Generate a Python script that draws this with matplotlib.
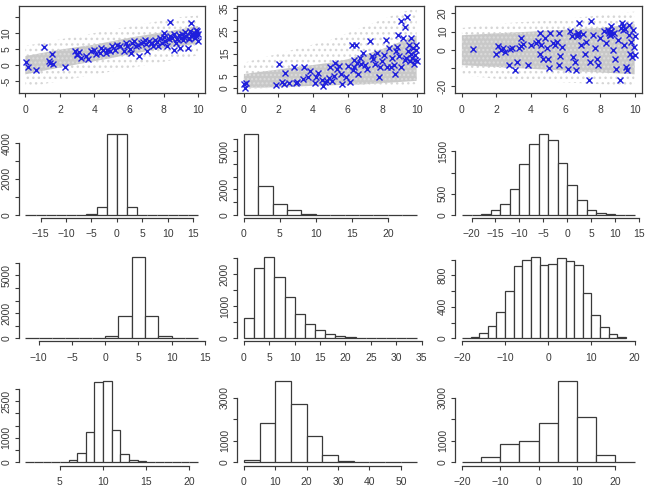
import matplotlib.pyplot as plt
import numpy as np

plt.rcParams['font.family'] = ['Liberation Sans', 'DejaVu Sans']

# ---- top row: scatter panels (grey cloud envelopes + blue marked points) ----
cloud_x = [0, 1, 2, 3, 4, 5, 6, 7, 8, 9, 10]

s1_dense_lo = [-2.9, -1.8, -0.8, 0.2, 1.2, 2.2, 3.3, 4.3, 5.2, 6.0, 6.7]
s1_dense_hi = [2.8, 3.8, 4.8, 5.6, 6.4, 7.4, 8.5, 9.4, 10.3, 11.2, 12.2]
s1_sparse_lo = [-7, -6, -5, -4, -3, -2, -1, 0, 1, 2, 3]
s1_sparse_hi = [6, 7, 8, 9, 10, 11, 12, 13, 14, 15, 15.5]
s1_x = [0.04, 0.13, 0.6, 1.06, 1.35, 1.44, 1.52, 1.6, 2.3, 2.87, 2.98, 3.1, 3.2, 3.5,
        3.6, 3.8, 4.0, 4.1, 4.3, 4.5, 4.65, 4.75, 5.0, 5.2, 5.3, 5.5, 5.7, 5.9, 6.1,
        6.2, 6.3, 6.5, 6.6, 6.7, 6.9, 7.05, 7.15, 7.35, 7.5, 7.7, 7.8, 8.0, 8.1, 8.2,
        8.4, 8.5, 8.6, 8.7, 8.9, 8.98, 9.1, 9.3, 9.4, 9.55, 9.6, 9.75, 9.85, 9.94,
        10.0, 9.85, 8.3, 8.8, 9.2, 9.5, 9.7, 9.9, 7.9, 8.6, 9.0, 9.6,
        6.4, 6.8, 7.0, 7.25, 7.6, 7.4, 8.05, 8.35, 8.75, 9.05, 9.25, 9.45, 9.65, 9.8,
        10.0, 5.8, 6.05, 4.9, 4.4, 3.0]
s1_y = [0.9, -0.6, -1.6, 5.6, 1.2, 0.7, 3.6, 0.2, -0.6, 4.3, 3.0, 4.0, 2.3, 2.8,
        1.8, 4.3, 4.8, 3.3, 3.8, 4.8, 3.8, 4.8, 5.9, 4.8, 6.4, 5.9, 4.3, 5.9, 3.8,
        6.9, 7.4, 6.4, 2.8, 6.9, 7.9, 4.3, 7.4, 6.9, 7.9, 5.9, 8.5, 10.0, 7.4, 5.9,
        13.6, 8.5, 4.8, 6.9, 9.5, 5.4, 7.9, 9.0, 5.2, 10.5, 13.1, 10.0, 9.0, 10.5,
        7.4, 11.0, 8.0, 8.2, 8.8, 8.0, 9.3, 9.6, 7.0, 9.8, 8.6, 9.0,
        6.0, 7.2, 6.5, 7.0, 7.3, 6.0, 8.8, 9.2, 8.0, 9.8, 10.3, 8.6, 9.5, 8.3,
        9.8, 6.8, 5.0, 4.4, 5.3, 3.6]

s2_dense_lo = [0, 0, 0.3, 0.5, 0.8, 1.0, 1.3, 1.5, 2.0, 2.5, 3.0]
s2_dense_hi = [6, 7, 8, 9, 10, 11, 12.5, 14.5, 17, 20, 23]
s2_sparse_lo = [-0.5, -0.3, 0, 0, 0, 0.2, 0.3, 0.5, 0.8, 1.0, 1.5]
s2_sparse_hi = [11, 13, 15, 17, 19, 21, 24, 27, 30, 33, 35]
s2_x = [0.0, 0.06, 0.13, 2.02, 1.87, 2.2, 2.3, 2.4, 2.6, 2.9, 3.0, 3.1, 3.4, 3.5,
        3.7, 3.8, 4.1, 4.2, 4.3, 4.5, 4.6, 4.7, 4.9, 5.0, 5.1, 5.2, 5.3, 5.4, 5.6,
        5.7, 5.9, 6.0, 6.15, 6.25, 6.35, 6.4, 6.5, 6.6, 6.7, 6.8, 6.9, 7.1, 7.3, 7.4,
        7.6, 7.7, 7.8, 8.0, 8.2, 8.3, 8.4, 8.6, 8.75, 8.85, 8.9, 9.1, 9.1, 9.2, 9.3,
        9.45, 9.5, 9.6, 9.7, 9.8, 9.85, 9.9, 9.95, 10.0, 8.7, 9.0, 9.4, 9.7, 9.9, 8.5,
        6.3, 6.55, 7.0, 7.5, 7.9, 8.1, 8.8, 9.3, 9.55, 9.75, 9.95, 5.5, 4.8]
s2_y = [1.4, 0.0, 2.0, 10.6, 1.0, 2.4, 1.4, 6.3, 2.0, 8.9, 2.0, 2.4, 3.9, 8.9,
        4.9, 7.4, 2.0, 4.6, 6.3, 3.4, 0.6, 2.4, 4.1, 8.9, 3.1, 5.3, 11.0, 8.1, 6.0,
        1.4, 4.6, 9.6, 2.4, 18.9, 12.4, 8.9, 18.9, 6.0, 13.1, 10.3, 15.3, 8.1, 20.6, 13.9,
        10.3, 15.3, 4.6, 11.7, 21.0, 8.9, 17.4, 13.1, 6.0, 18.1, 23.1, 8.9, 29.6, 21.7, 26.7,
        31.0, 16.0, 11.7, 21.7, 17.4, 10.3, 14.6, 18.9, 11.7, 10.0, 14.0, 13.0, 15.0, 12.0, 9.0,
        8.0, 11.0, 10.0, 12.5, 9.0, 14.5, 16.0, 12.0, 19.0, 13.0, 16.5, 9.5, 3.0]

s3_dense_lo = [-8.5, -9, -9.5, -10, -10.5, -11, -11.5, -12, -12.5, -13, -13.5]
s3_dense_hi = [8, 8.5, 9, 9.5, 10, 10.5, 11, 11.5, 12, 13, 14]
s3_sparse_lo = [-14, -15, -16, -16.5, -17, -17.5, -18, -18.5, -19, -19.5, -20]
s3_sparse_hi = [12, 13, 14, 15, 15.5, 16, 17, 18, 19, 20, 21]
s3_x = [0.67, 2.0, 2.1, 2.25, 2.37, 2.5, 2.7, 2.8, 2.9, 3.1, 3.2, 3.3, 3.4, 3.45,
        3.55, 3.8, 4.0, 4.3, 4.4, 4.5, 4.5, 4.6, 4.7, 4.8, 4.9, 5.0, 5.05, 5.1, 5.25,
        5.4, 5.5, 5.6, 5.65, 5.7, 5.8, 6.15, 6.25, 6.35, 6.45, 6.55, 6.6, 6.7, 6.8,
        6.9, 7.1, 7.2, 7.35, 7.4, 7.5, 7.6, 7.7, 7.8, 7.9, 8.0, 8.2, 8.35, 8.45, 8.55,
        8.65, 8.75, 8.85, 8.95, 9.05, 9.15, 9.25, 9.35, 9.4, 9.5, 9.55, 9.65, 9.7,
        9.75, 9.8, 9.85, 9.9, 9.95, 10.0, 10.0, 8.5, 8.6, 8.7, 8.8, 6.7,
        8.55, 8.65, 9.2, 9.3, 9.45, 6.75, 6.65, 7.0]
s3_y = [0.4, -2.1, 2.1, -0.2, 1.1, -1.1, -8.2, 0.4, 1.1, -11.4, -6.7, 0.7, 6.4, 2.1,
        3.0, -8.6, 2.6, 3.6, 4.9, 9.2, -2.1, 2.6, -4.9, 6.4, 0.7, -4.9, -10.1, 9.5, 3.6,
        2.6, 4.5, -8.2, 9.2, -3.4, 1.7, -10.5, 10.1, 7.3, -3.9, -6.7, -11.0, 8.2, 14.8,
        2.6, -2.1, 4.5, -16.6, -6.7, 15.7, 8.2, 0.7, -4.9, -8.6, 6.4, 10.1, 3.6, 11.0, 8.2,
        12.9, -0.2, -4.9, -10.5, 5.4, -16.6, 14.8, 11.0, 2.6, -9.5, -11.4, 8.2, 13.8,
        -2.1, 4.5, -3.9, 11.0, 1.7, -3.0, 7.3, 9.0, 10.0, 8.5, 9.5, 9.0,
        8.0, 10.5, 12.0, 13.0, 11.5, 9.5, 7.8, 8.7]

# ---- histogram panels: bin edges, counts and x range ----
h1_edges = np.arange(-18, 17, 2)
h1_counts = [0, 0, 0, 0, 0, 2, 25, 450, 4490, 4520, 450, 10, 0, 0, 0, 0, 0]
h2_edges = np.arange(0, 25, 2)
h2_counts = [6390, 2280, 820, 345, 80, 10, 0, 0, 0, 0, 0, 0]
h3_edges = np.arange(-22, 15, 2)
h3_counts = [0, 2, 15, 103, 253, 616, 1193, 1682, 1919, 1761, 1224, 695, 355, 103, 40, 8, 1, 0]
h4_edges = np.arange(-12, 15, 2)
h4_counts = [0, 0, 0, 0, 5, 50, 157, 1730, 6440, 1730, 157, 50, 5]
h5_edges = np.arange(0, 35, 2)
h5_counts = [628, 2191, 2520, 1914, 1296, 751, 432, 247, 144, 72, 30, 20, 5, 2, 0, 0, 0]
h6_edges = np.arange(-20, 19, 2)
h6_counts = [8, 10, 63, 151, 335, 599, 913, 997, 1030, 934, 942, 1018, 988, 934, 570, 302, 138, 54, 12]
h7_edges = np.arange(1, 22, 1)
h7_counts = [0, 0, 0, 0, 10, 95, 380, 1236, 3274, 3315, 1318, 340, 109, 40, 10, 0, 0, 0, 0, 0]
h8_edges = np.arange(0, 56, 5)
h8_counts = [90, 1846, 3770, 2708, 1200, 354, 60, 15, 0, 0, 0]
h9_edges = np.arange(-20, 26, 5)
h9_counts = [5, 246, 846, 1000, 1846, 3770, 2108, 323, 0]

h_xrange = [(-18, 16), (0, 24), (-22, 14), (-12, 14), (0, 34), (-20, 20),
            (1, 21), (0, 55), (-20, 25)]
h_xticks = [np.arange(-15, 16, 5), np.arange(0, 21, 5), np.arange(-20, 16, 5),
            np.arange(-10, 16, 5), np.arange(0, 36, 5), np.arange(-20, 21, 10),
            np.arange(5, 21, 5), np.arange(0, 51, 10), np.arange(-20, 21, 10)]
h_yticks = [np.arange(0, 4001, 1000), np.arange(0, 6001, 1000), np.arange(0, 1501, 500),
            np.arange(0, 6001, 1000), np.arange(0, 2501, 500), np.arange(0, 1001, 200),
            np.arange(0, 3001, 500), np.arange(0, 3001, 1000), np.arange(0, 3001, 1000)]
h_ylabels = [[0, 2000, 4000], [0, 2000, 5000], [0, 500, 1500],
             [0, 2000, 5000], [0, 1000, 2000], [0, 400, 800],
             [0, 1000, 2500], [0, 1000, 3000], [0, 1000, 3000]]

BLUE = '#1f1fdc'
INK = '#3a3a3a'
FW, FH = 645, 494
COL_LEFT = [18.5, 237, 455]
ROW_TOP = [6, 130.5, 254, 378]
PW, PH = 186.5, 87.5

fig = plt.figure(figsize=(FW / 100, FH / 100), dpi=100)


def panel(col, row):
    L, T = COL_LEFT[col], ROW_TOP[row]
    ax = fig.add_axes([L / FW, 1 - (T + PH) / FH, PW / FW, PH / FH])
    ax.tick_params(length=3.2, width=0.8, colors=INK, labelsize=7.5)
    ax.tick_params(axis='x', pad=5)
    ax.tick_params(axis='y', pad=2)
    return ax


def rot_y(ax):
    for t in ax.get_yticklabels():
        t.set_rotation(90)
        t.set_va('center')


scatters = [
    (s1_dense_lo, s1_dense_hi, s1_sparse_lo, s1_sparse_hi, s1_x, s1_y,
     (-8.9, 18.45), np.arange(-5, 16, 5), [-5, 0, 5, 10]),
    (s2_dense_lo, s2_dense_hi, s2_sparse_lo, s2_sparse_hi, s2_x, s2_y,
     (-2.57, 36.0), np.arange(0, 36, 5), [0, 5, 15, 25, 35]),
    (s3_dense_lo, s3_dense_hi, s3_sparse_lo, s3_sparse_hi, s3_x, s3_y,
     (-24.1, 24.1), np.arange(-20, 21, 10), [-20, 0, 10, 20]),
]

for c, (dlo, dhi, slo, shi, px, py, ylim, yt, ylab) in enumerate(scatters):
    ax = panel(c, 0)
    ax.fill_between(cloud_x, slo, shi, facecolor='none', edgecolor='#d6d6d6',
                    hatch='...', linewidth=0)
    ax.fill_between(cloud_x, dlo, dhi, facecolor='#c8c8c8', edgecolor='#dcdcdc',
                    hatch='....', linewidth=0)
    ax.plot(px, py, linestyle='none', marker='x', color=BLUE, markersize=4.8,
            markeredgewidth=1.0)
    ax.set_xlim(-0.4, 10.4)
    ax.set_ylim(*ylim)
    ax.set_xticks(np.arange(0, 11, 2))
    ax.set_yticks(yt)
    ax.set_yticklabels([str(v) if v in ylab else '' for v in yt])
    rot_y(ax)
    for s in ax.spines.values():
        s.set_color(INK)
        s.set_linewidth(0.9)

hists = [(h1_edges, h1_counts), (h2_edges, h2_counts), (h3_edges, h3_counts),
         (h4_edges, h4_counts), (h5_edges, h5_counts), (h6_edges, h6_counts),
         (h7_edges, h7_counts), (h8_edges, h8_counts), (h9_edges, h9_counts)]

for i, (edges, counts) in enumerate(hists):
    ax = panel(i % 3, 1 + i // 3)
    ax.bar(edges[:-1], counts, width=np.diff(edges), align='edge',
           facecolor='white', edgecolor=INK, linewidth=0.9)
    lo, hi = h_xrange[i]
    ax.set_xlim(lo - 0.04 * (hi - lo), hi + 0.04 * (hi - lo))
    top = max(counts)
    ax.set_ylim(-0.04 * top, 1.04 * top)
    xt, yt = h_xticks[i], h_yticks[i]
    ax.set_xticks(xt)
    ax.set_yticks(yt)
    ax.set_yticklabels([str(v) if v in h_ylabels[i] else '' for v in yt])
    rot_y(ax)
    ax.spines['top'].set_visible(False)
    ax.spines['right'].set_visible(False)
    ax.spines['left'].set_bounds(yt[0], yt[-1])
    ax.spines['bottom'].set_bounds(xt[0], xt[-1])
    for s in ('left', 'bottom'):
        ax.spines[s].set_color(INK)
        ax.spines[s].set_linewidth(0.9)

fig.savefig('out.png', dpi=100)
